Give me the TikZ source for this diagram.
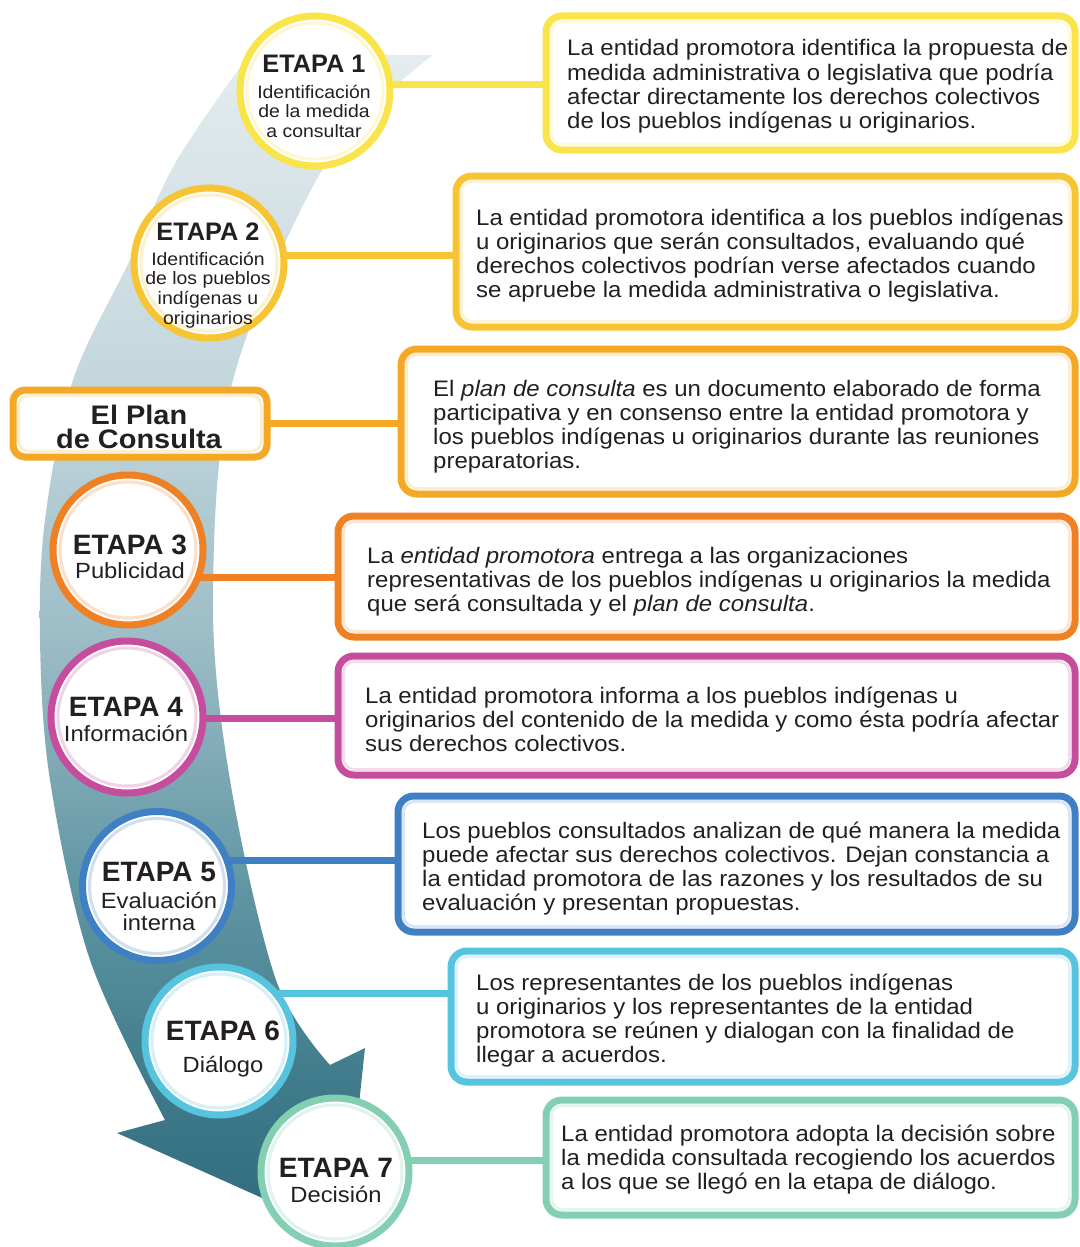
\documentclass[tikz,border=0pt]{standalone}
\usepackage{fontspec}
\setmainfont{Liberation Sans}
\newfontfamily\bodyf{Liberation Sans}[FakeStretch=1.07]
\newfontfamily\subf{Liberation Sans}[FakeStretch=1.08]
\usetikzlibrary{calc}
\pgfdeclarelayer{bg}
\pgfsetlayers{bg,main}
\definecolor{cA}{HTML}{F9E54A}
\definecolor{cB}{HTML}{F7C533}
\definecolor{cP}{HTML}{F5A823}
\definecolor{cC}{HTML}{EF8024}
\definecolor{cD}{HTML}{C64D9E}
\definecolor{cE}{HTML}{3F80C5}
\definecolor{cF}{HTML}{56C3DF}
\definecolor{cG}{HTML}{84CEB2}
\definecolor{ink}{HTML}{231F20}
\definecolor{bA}{HTML}{E4ECEF}
\definecolor{bB2}{HTML}{C2D6DC}
\definecolor{bB}{HTML}{9DBDC7}
\definecolor{bC}{HTML}{5F95A3}
\definecolor{bC2}{HTML}{3E7A8A}
\definecolor{bD}{HTML}{2E6A7B}
\pgfdeclareverticalshading{bandshade}{100bp}{color(0bp)=(bD); color(25bp)=(bD); color(31bp)=(bC2); color(39.5bp)=(bC); color(50.4bp)=(bB); color(60.5bp)=(bB2); color(75bp)=(bA); color(100bp)=(bA)}
\newcommand\LL[1]{\vtop{\lineskiplimit=-100pt\halign{##\hfil\cr#1\crcr}}}
\newcommand\CC[1]{\vtop{\lineskiplimit=-100pt\halign{\hfil##\hfil\cr#1\crcr}}}
\newcommand\bodytext{\bodyf\fontsize{22.4}{24.2}\selectfont}
\newcommand\smallsub{\subf\fontsize{18}{19.8}\selectfont}
\newcommand\bigsub{\subf\fontsize{22}{22.5}\selectfont}
\newcommand\ttlA{\bfseries\fontsize{25.3}{26}\selectfont}
\newcommand\ttlB{\bfseries\fontsize{28}{28}\selectfont}
\newcommand\ttlP{\subf\bfseries\fontsize{26.8}{24.5}\selectfont}
\tikzset{
  circ/.style={circle, draw=#1, line width=7pt, fill=white, inner sep=0pt},
  glowc/.style={draw=#1!25, line width=3pt},
  boxn/.style={rectangle, rounded corners=16pt, draw=#1, line width=7pt, fill=white, inner sep=0pt},
  glowb/.style={draw=#1!20, line width=3pt, rounded corners=11pt},
  conn/.style={draw=#1, line width=7pt},
  txt/.style={inner sep=0pt, text=ink},
}
\begin{document}
\begin{tikzpicture}[x=1pt,y=-1pt]
\useasboundingbox (0,0) rectangle (1079,1247);
% connector levels
\coordinate (k1) at (0,84);
\coordinate (k2) at (0,255);
\coordinate (kp) at (0,423);
\coordinate (k3) at (0,577);
\coordinate (k4) at (0,718);
\coordinate (k5) at (0,860);
\coordinate (k6) at (0,993);
\coordinate (k7) at (0,1160);
% circles
\node[circ=cA, minimum size=150pt] (c1) at (315,91) {};
\node[circ=cB, minimum size=150pt] (c2) at (209,263) {};
\node[boxn=cP, rounded corners=12pt, minimum width=254pt, minimum height=67pt] (plan) at (140,423.5) {};
\node[circ=cC, minimum size=150pt] (c3) at (128,550) {};
\node[circ=cD, minimum size=152pt] (c4) at (127,717) {};
\node[circ=cE, minimum size=149pt] (c5) at (157,886) {};
\node[circ=cF, minimum size=148pt] (c6) at (219,1041) {};
\node[circ=cG, minimum size=148pt] (c7) at (335,1172) {};
\foreach \n/\c/\r in {c1/cA/68,c2/cB/68,c3/cC/68,c4/cD/69,c5/cE/67.5,c6/cF/67,c7/cG/67}
  \draw[glowc=\c] (\n.center) circle[radius=\r];
% boxes
\node[boxn=cA, minimum width=529pt, minimum height=134pt] (b1) at (810.5,83) {};
\node[boxn=cB, minimum width=619pt, minimum height=151pt] (b2) at (765.5,251.5) {};
\node[boxn=cP, minimum width=674pt, minimum height=145pt] (b3) at (738,421.5) {};
\node[boxn=cC, minimum width=737pt, minimum height=121pt] (b4) at (706.5,576.5) {};
\node[boxn=cD, minimum width=737pt, minimum height=119pt] (b5) at (706.5,715.5) {};
\node[boxn=cE, minimum width=677pt, minimum height=136pt] (b6) at (736.5,864) {};
\node[boxn=cF, minimum width=624pt, minimum height=131pt] (b7) at (763,1016.5) {};
\node[boxn=cG, minimum width=529pt, minimum height=115pt] (b8) at (810.5,1157.5) {};
\foreach \n/\c in {b1/cA,b2/cB,b3/cP,b4/cC,b5/cD,b6/cE,b7/cF,b8/cG,plan/cP}
  \draw[glowb=\c] ($(\n.north west)+(9,9)$) rectangle ($(\n.south east)+(-9,-9)$);
% background: band and connectors
\begin{pgfonlayer}{bg}
\fill[white] (0,0) rectangle (1079,1247);
\shade[shading=bandshade] (249,55) -- (433,55)
  -- plot[smooth, tension=0.55] coordinates {(433,55) (328,160) (233,380) (213,600) (230,780) (276,980) (330,1065)}
  -- (365,1048) -- (345,1235) -- (117,1133) -- (165,1120)
  -- plot[smooth, tension=0.55] coordinates {(165,1120) (90,960) (50,780) (40,640) (45,520) (73,380) (130,260) (177,160) (249,55)} -- cycle;
\draw[conn=cA] (c1.center |- k1) -- (b1.center |- k1);
\draw[conn=cB] (c2.center |- k2) -- (b2.center |- k2);
\draw[conn=cP] (plan.center |- kp) -- (b3.center |- kp);
\draw[conn=cC] (c3.center |- k3) -- (b4.center |- k3);
\draw[conn=cD] (c4.center |- k4) -- (b5.center |- k4);
\draw[conn=cE] (c5.center |- k5) -- (b6.center |- k5);
\draw[conn=cF] (c6.center |- k6) -- (b7.center |- k6);
\draw[conn=cG] (c7.center |- k7) -- (b8.center |- k7);
\end{pgfonlayer}
% circle texts
\node[txt, anchor=base] (e1) at (314,73) {\ttlA ETAPA 1};
\node[txt, anchor=base] (s1) at (314,98) {\smallsub\CC{Identificación\cr de la medida\cr a consultar}};
\node[txt, anchor=base] (e2) at (208,240) {\ttlA ETAPA 2};
\node[txt, anchor=base] (s2) at (208,265) {\smallsub\CC{Identificación\cr de los pueblos\cr indígenas u\cr originarios}};
\node[txt, anchor=base] (pt) at (139,424) {\ttlP\CC{El Plan\cr de Consulta}};
\node[txt, anchor=base] (e3) at (130,554) {\ttlB ETAPA 3};
\node[txt, anchor=base] (s3) at (130,578) {\bigsub Publicidad};
\node[txt, anchor=base] (e4) at (126,716) {\ttlB ETAPA 4};
\node[txt, anchor=base] (s4) at (126,741) {\bigsub Información};
\node[txt, anchor=base] (e5) at (159,881) {\ttlB ETAPA 5};
\node[txt, anchor=base] (s5) at (159,908) {\bigsub\CC{Evaluación\cr interna}};
\node[txt, anchor=base] (e6) at (223,1040) {\ttlB ETAPA 6};
\node[txt, anchor=base] (s6) at (223,1072) {\bigsub Diálogo};
\node[txt, anchor=base] (e7) at (336,1177) {\ttlB ETAPA 7};
\node[txt, anchor=base] (s7) at (336,1202) {\bigsub Decisión};
% box texts
\node[txt, anchor=base west] (t1) at (567,56) {\bodytext\LL{La entidad promotora identifica la propuesta de\cr medida administrativa o legislativa que podría\cr afectar directamente los derechos colectivos\cr de los pueblos indígenas u originarios.}};
\node[txt, anchor=base west] (t2) at (476,225) {\bodytext\LL{La entidad promotora identifica a los pueblos indígenas\cr u originarios que serán consultados, evaluando qué\cr derechos colectivos podrían verse afectados cuando\cr se apruebe la medida administrativa o legislativa.}};
\node[txt, anchor=base west] (t3) at (433,396) {\bodytext\LL{El \textit{plan de consulta} es un documento elaborado de forma\cr participativa y en consenso entre la entidad promotora y\cr los pueblos indígenas u originarios durante las reuniones\cr preparatorias.}};
\node[txt, anchor=base west] (t4) at (367,563) {\bodytext\LL{La \textit{entidad promotora} entrega a las organizaciones\cr representativas de los pueblos indígenas u originarios la medida\cr que será consultada y el \textit{plan de consulta}.}};
\node[txt, anchor=base west] (t5) at (365,703) {\bodytext\LL{La entidad promotora informa a los pueblos indígenas u\cr originarios del contenido de la medida y como ésta podría afectar\cr sus derechos colectivos.}};
\node[txt, anchor=base west] (t6) at (422,838) {\bodytext\LL{Los pueblos consultados analizan de qué manera la medida\cr puede afectar sus derechos colectivos. Dejan constancia a\cr la entidad promotora de las razones y los resultados de su\cr evaluación y presentan propuestas.}};
\node[txt, anchor=base west] (t7) at (476,990) {\bodytext\LL{Los representantes de los pueblos indígenas\cr u originarios y los representantes de la entidad\cr promotora se reúnen y dialogan con la finalidad de\cr llegar a acuerdos.}};
\node[txt, anchor=base west] (t8) at (561,1141) {\bodytext\LL{La entidad promotora adopta la decisión sobre\cr la medida consultada recogiendo los acuerdos\cr a los que se llegó en la etapa de diálogo.}};
\end{tikzpicture}
\end{document}
